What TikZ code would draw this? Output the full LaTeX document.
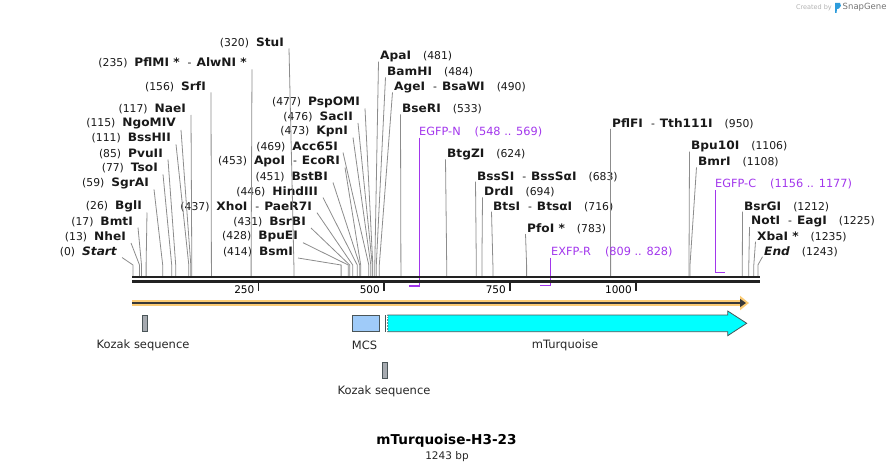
\documentclass[tikz,border=0pt]{standalone}
\usepackage{fontspec}
\setmainfont{DejaVu Sans}
\newfontfamily\enzfont{DejaVu Sans}[FakeStretch=1.05]
\usetikzlibrary{arrows.meta}
\definecolor{cutGray}{HTML}{8C8C8C}
\definecolor{bbDark}{HTML}{222222}
\definecolor{primerViolet}{HTML}{A236EC}
\definecolor{orfOrange}{HTML}{FBCB74}
\definecolor{kozakGray}{HTML}{A6AAB0}
\definecolor{mcsBlue}{HTML}{9FCBF9}
\definecolor{turqCyan}{HTML}{00FFFF}
\definecolor{featEdge}{HTML}{4A5558}
\definecolor{logoBlue}{HTML}{2D9CDB}
\newcommand{\enz}[1]{{\enzfont\bfseries\fontsize{11.6}{13}\selectfont #1}}
\newcommand{\enzit}[1]{{\enzfont\bfseries\itshape\fontsize{11.6}{13}\selectfont #1}}
\newcommand{\enzdash}{\hspace{8pt}-\hspace{5pt}}

\begin{document}
\begin{tikzpicture}[x=1pt, y=-1pt,
  lcut/.style={anchor=east, inner sep=0pt, text=black!90,
               font=\fontsize{10.8}{13}\selectfont},
  rcut/.style={anchor=west, inner sep=0pt, text=black!90,
               font=\fontsize{10.8}{13}\selectfont},
  cutline/.style={draw=cutGray, line width=0.8pt},
  primer/.style={anchor=west, inner sep=0pt, text=primerViolet,
                 font=\fontsize{11.3}{13}\selectfont},
  primline/.style={draw=primerViolet, line width=1.5pt},
  ticklab/.style={anchor=east, inner sep=0pt, font=\fontsize{10.5}{12}\selectfont},
  featbox/.style={draw=featEdge, line width=0.8pt, inner sep=0pt, minimum height=16.5pt},
  flabel/.style={inner sep=0pt, text=black!85, font=\fontsize{11.5}{13}\selectfont},
]
  \useasboundingbox (0,0) rectangle (893,473);

  % SnapGene mark
  \node[anchor=east, inner sep=0pt, text=black!30, font=\fontsize{6.5}{8}\selectfont] (created) at (832,7.5) {Created by};
  \fill[logoBlue] (835,3) -- (840,3) .. controls (841.5,4.5) and (841.5,7) .. (839,8.5) -- (837,9) -- (836.5,13) -- (835,13) -- cycle;
  \node[anchor=west, inner sep=0pt, text=black!55, font=\fontsize{8.5}{10}\selectfont] (snapgene) at (842.5,7.5) {SnapGene};

  % cut sites on the backbone
  \coordinate (startS) at (133.0,276);  \coordinate (nheS) at (139.5,276);
  \coordinate (bmtS) at (141.5,276);    \coordinate (bglS) at (146.1,276);
  \coordinate (sgraS) at (162.7,276);   \coordinate (tsoS) at (171.7,276);
  \coordinate (pvuS) at (175.7,276);    \coordinate (bsshS) at (188.8,276);
  \coordinate (ngoS) at (190.8,276);    \coordinate (naeS) at (191.8,276);
  \coordinate (srfS) at (211.4,276);    \coordinate (pflmS) at (251.1,276);
  \coordinate (stuS) at (293.9,276);    \coordinate (bsmS) at (341.1,276);
  \coordinate (bpueS) at (348.2,276);   \coordinate (bsrbS) at (349.7,276);
  \coordinate (xhoS) at (352.7,276);    \coordinate (hindS) at (357.2,276);
  \coordinate (bstbS) at (359.7,276);   \coordinate (apoS) at (360.7,276);
  \coordinate (accS) at (368.8,276);    \coordinate (kpnS) at (370.8,276);
  \coordinate (sacS) at (372.3,276);    \coordinate (pspS) at (372.8,276);
  \coordinate (apaS) at (374.8,276);    \coordinate (bamS) at (376.3,276);
  \coordinate (ageS) at (379.3,276);    \coordinate (bserS) at (400.9,276);
  \coordinate (btgzS) at (446.7,276);   \coordinate (bsssS) at (476.3,276);
  \coordinate (drdS) at (481.9,276);    \coordinate (btsS) at (492.9,276);
  \coordinate (pfoS) at (526.6,276);    \coordinate (pflfS) at (610.6,276);
  \coordinate (bpuS) at (689.0,276);    \coordinate (bmrS) at (690.0,276);
  \coordinate (bsrgS) at (742.3,276);   \coordinate (notS) at (748.8,276);
  \coordinate (xbaS) at (753.8,276);    \coordinate (endS) at (757.9,276);

  % enzymes, left hand labels
  \node[lcut] (start) at (117,251.5) {(0)\hspace{7pt}\enzit{Start}};
  \node[lcut] (nhe) at (126,237) {(13)\hspace{7pt}\enz{NheI}};
  \node[lcut] (bmt) at (133,221.5) {(17)\hspace{7pt}\enz{BmtI}};
  \node[lcut] (bgl) at (142,206.5) {(26)\hspace{7pt}\enz{BglI}};
  \node[lcut] (sgra) at (149,183.3) {(59)\hspace{7pt}\enz{SgrAI}};
  \node[lcut] (tso) at (158,168.3) {(77)\hspace{7pt}\enz{TsoI}};
  \node[lcut] (pvu) at (163,153.5) {(85)\hspace{7pt}\enz{PvuII}};
  \node[lcut] (bssh) at (171,138.3) {(111)\hspace{7pt}\enz{BssHII}};
  \node[lcut] (ngo) at (176,124) {(115)\hspace{7pt}\enz{NgoMIV}};
  \node[lcut] (nae) at (186,109) {(117)\hspace{7pt}\enz{NaeI}};
  \node[lcut] (srf) at (206,86.5) {(156)\hspace{7pt}\enz{SrfI}};
  \node[lcut] (pflm) at (247,63.3) {(235)\hspace{7pt}\enz{PflMI *}\enzdash\enz{AlwNI *}};
  \node[lcut] (stu) at (284,42.5) {(320)\hspace{7pt}\enz{StuI}};
  \node[lcut] (psp) at (360,102.5) {(477)\hspace{7pt}\enz{PspOMI}};
  \node[lcut] (sac) at (353,117) {(476)\hspace{7pt}\enz{SacII}};
  \node[lcut] (kpn) at (348,131.5) {(473)\hspace{7pt}\enz{KpnI}};
  \node[lcut] (acc) at (338,146.5) {(469)\hspace{7pt}\enz{Acc65I}};
  \node[lcut] (apo) at (340,161.5) {(453)\hspace{7pt}\enz{ApoI}\enzdash\enz{EcoRI}};
  \node[lcut] (bstb) at (328,176.5) {(451)\hspace{7pt}\enz{BstBI}};
  \node[lcut] (hind) at (318,191.5) {(446)\hspace{7pt}\enz{HindIII}};
  \node[lcut] (xho) at (312,206.7) {(437)\hspace{7pt}\enz{XhoI}\enzdash\enz{PaeR7I}};
  \node[lcut] (bsrb) at (306,222) {(431)\hspace{7pt}\enz{BsrBI}};
  \node[lcut] (bpue) at (298,236.7) {(428)\hspace{7pt}\enz{BpuEI}};
  \node[lcut] (bsm) at (293,252) {(414)\hspace{7pt}\enz{BsmI}};

  % enzymes, right hand labels
  \node[rcut] (apa) at (380,56.7) {\enz{ApaI}\hspace{12pt}(481)};
  \node[rcut] (bam) at (387,72.3) {\enz{BamHI}\hspace{12pt}(484)};
  \node[rcut] (age) at (394,87.3) {\enz{AgeI}\enzdash\enz{BsaWI}\hspace{12pt}(490)};
  \node[rcut] (bser) at (402,109.3) {\enz{BseRI}\hspace{12pt}(533)};
  \node[rcut] (btgz) at (447,154.3) {\enz{BtgZI}\hspace{12pt}(624)};
  \node[rcut] (bsss) at (477,176.7) {\enz{BssSI}\enzdash\enz{BssSαI}\hspace{12pt}(683)};
  \node[rcut] (drd) at (484,192.3) {\enz{DrdI}\hspace{12pt}(694)};
  \node[rcut] (bts) at (493,206.7) {\enz{BtsI}\enzdash\enz{BtsαI}\hspace{12pt}(716)};
  \node[rcut] (pfo) at (527,229) {\enz{PfoI *}\hspace{12pt}(783)};
  \node[rcut] (pflf) at (612,124) {\enz{PflFI}\enzdash\enz{Tth111I}\hspace{12pt}(950)};
  \node[rcut] (bpu) at (691,146.7) {\enz{Bpu10I}\hspace{12pt}(1106)};
  \node[rcut] (bmr) at (698,162.3) {\enz{BmrI}\hspace{12pt}(1108)};
  \node[rcut] (bsrg) at (744,206.7) {\enz{BsrGI}\hspace{12pt}(1212)};
  \node[rcut] (not) at (751,222) {\enz{NotI}\enzdash\enz{EagI}\hspace{12pt}(1225)};
  \node[rcut] (xba) at (757,236.7) {\enz{XbaI *}\hspace{12pt}(1235)};
  \node[rcut] (end) at (764,251.7) {\enzit{End}\hspace{12pt}(1243)};

  % leader lines
  \foreach \e in {start,nhe,bmt,bgl,sgra,tso,pvu,bssh,ngo,nae,srf,pflm,stu,
                  psp,sac,kpn,acc,apo,bstb,hind,xho,bsrb,bpue,bsm}
    \draw[cutline] ([shift={(5,6)}]\e.east) -- ([yshift=11pt]\e S) -- (\e S);
  \foreach \e in {apa,bam,age,bser,btgz,bsss,drd,bts,pfo,pflf,bpu,bmr,bsrg,not,xba,end}
    \draw[cutline] ([shift={(-1.5,5)}]\e.west) -- ([yshift=11pt]\e S) -- (\e S);

  % primers
  \node[primer] (egfpn) at (419,131.7) {EGFP-N\hspace{14pt}(548 .. 569)};
  \node[primer] (exfpr) at (551,251.7) {EXFP-R\hspace{14pt}(809 .. 828)};
  \node[primer] (egfpc) at (715,184) {EGFP-C\hspace{14pt}(1156 .. 1177)};
  \coordinate (egfpnA) at (408.5,286);  \coordinate (egfpnB) at (419.3,286);
  \coordinate (exfprA) at (539.7,285.5); \coordinate (exfprB) at (550.7,285.5);
  \coordinate (egfpcA) at (715.3,272.5); \coordinate (egfpcB) at (724.7,272.5);
  \draw[primline] ([yshift=-6pt]egfpnB |- egfpn.west) -- (egfpnB) -- (egfpnA);
  \draw[primline] ([yshift=-6pt]exfprB |- exfpr.west) -- (exfprB) -- (exfprA);
  \draw[primline] ([yshift=-6pt]egfpcA |- egfpc.west) -- (egfpcA) -- (egfpcB);

  % backbone and ruler
  \draw[bbDark, line width=2.6pt] (132,277) -- (760,277);
  \draw[bbDark, line width=2.6pt] (132,281.4) -- (760,281.4);
  \foreach \t/\x in {250/258.5, 500/384, 750/510, 1000/636} {
    \draw[bbDark, line width=1.8pt] (\x,282) -- (\x,290.5);
    \node[ticklab] at (\x-4,289.5) {\t};
  }

  % ORF
  \draw[orfOrange, line width=6pt, -{Triangle[length=9pt,width=14pt]}] (132,303) -- (749,303);
  \draw[bbDark!90, line width=2pt, -{Triangle[length=6pt,width=8pt]}] (132,303) -- (746,303);

  % features
  \node[featbox, fill=kozakGray, minimum width=5pt] (kozak1) at (144.8,323.3) {};
  \node[flabel] (kozak1lab) at (143,345) {Kozak sequence};
  \node[featbox, fill=mcsBlue, minimum width=27pt] (mcs) at (365.8,323.3) {};
  \node[flabel] (mcslab) at (364.5,345) {MCS};
  \draw[featEdge, line width=0.8pt, fill=turqCyan] (387.7,315) -- (727.7,315) -- (727.7,311)
    -- (746.7,323.3) -- (727.7,335.7) -- (727.7,331.7) -- (387.7,331.7) -- cycle;
  \draw[white, line width=0.8pt, dotted] (387.7,315.5) -- (387.7,331.2);
  \draw[featEdge, line width=0.9pt] (385,315) -- (385,331.7);
  \node[flabel] (turqlab) at (565,345) {mTurquoise};
  \node[featbox, fill=kozakGray, minimum width=5pt] (kozak2) at (384.8,370.3) {};
  \node[flabel] (kozak2lab) at (384,391.5) {Kozak sequence};

  % title
  \node[inner sep=0pt, font=\bfseries\fontsize{13.6}{16}\selectfont] (title) at (446.5,441) {mTurquoise-H3-23};
  \node[inner sep=0pt, text=black!85, font=\fontsize{10.5}{12}\selectfont] (length) at (447,456.5) {1243 bp};
\end{tikzpicture}
\end{document}
